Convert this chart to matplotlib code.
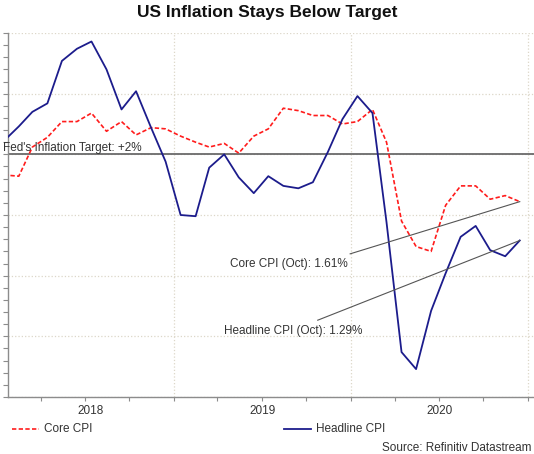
import matplotlib
matplotlib.use("Agg")
import matplotlib.pyplot as plt
import matplotlib.dates as mdates
import matplotlib.transforms as mtransforms
from matplotlib.lines import Line2D
import numpy as np
import pandas as pd

# monthly readings, plotted mid-month
months = pd.date_range("2018-01-01", "2020-12-01", freq="MS") + pd.Timedelta(days=14)

core_cpi = [1.83, 1.82, 2.06, 2.14, 2.27, 2.27, 2.34, 2.19, 2.27, 2.16, 2.22, 2.21,
            2.15, 2.10, 2.06, 2.09, 2.01, 2.15, 2.21, 2.38, 2.36, 2.32, 2.32, 2.25,
            2.27, 2.37, 2.10, 1.45, 1.24, 1.20, 1.58, 1.74, 1.74, 1.63, 1.66, 1.61]

headline_cpi = [2.11, 2.23, 2.35, 2.42, 2.77, 2.87, 2.93, 2.70, 2.37, 2.52, 2.22, 1.94,
                1.50, 1.49, 1.89, 2.00, 1.81, 1.68, 1.82, 1.74, 1.72, 1.77, 2.02, 2.29,
                2.48, 2.34, 1.44, 0.37, 0.23, 0.71, 1.02, 1.32, 1.41, 1.21, 1.16, 1.29]

target = 2.0
years = [2018, 2019, 2020]
core_note = "Core CPI (Oct): 1.61%"
headline_note = "Headline CPI (Oct): 1.29%"

plt.rcParams["font.family"] = ["Liberation Sans", "DejaVu Sans"]
TEXT = "#333333"
NAVY = "#1c1c8c"
RED = "#ff1c1c"
GRID = "#dcd7c8"
AXIS = "#8c8c8c"
FS = 8.5

W, H = 534, 454
fig = plt.figure(figsize=(W / 100, H / 100), dpi=100)
fig.patch.set_facecolor("white")
ax = fig.add_axes([8 / W, 57 / H, 526 / W, 364 / H])

ax.plot(months, core_cpi, color=RED, lw=1.2, ls=(0, (2.6, 1.4)), zorder=3)
ax.plot(months, headline_cpi, color=NAVY, lw=1.3, zorder=4)

jan19 = mdates.date2num(pd.Timestamp("2019-01-01"))
jan21 = mdates.date2num(pd.Timestamp("2021-01-01"))
x0, x1 = jan19 - 342.3, jan21 + 12.4
ax.set_xlim(x0, x1)
ax.set_ylim(0, 3)

# y axis: unlabelled ticks, grid every 0.5
ax.set_yticks(np.arange(0, 3.01, 0.5))
ax.set_yticks(np.arange(0, 3.01, 0.1), minor=True)
ax.set_yticklabels([])
ax.yaxis.grid(True, which="major", ls=":", lw=0.9, color=GRID, zorder=0)
ax.tick_params(axis="y", which="both", length=3.5, width=0.8, color=AXIS)

# x axis: quarterly ticks, year gridlines, year labels centred in visible span
ax.xaxis.set_major_locator(mdates.MonthLocator(bymonth=[1, 4, 7, 10]))
ax.xaxis.set_major_formatter(plt.NullFormatter())
ax.tick_params(axis="x", which="both", length=3, width=0.8, color=AXIS)
for yr in years:
    start = mdates.date2num(pd.Timestamp(f"{yr}-01-01"))
    end = mdates.date2num(pd.Timestamp(f"{yr + 1}-01-01"))
    if yr > years[0]:
        ax.axvline(start, ls=":", lw=0.9, color=GRID, zorder=0)
    mid = (max(start, x0) + end) / 2
    ax.text(mid, -14 / 364, str(yr), transform=ax.get_xaxis_transform(),
            ha="center", va="center", fontsize=FS, color=TEXT)
ax.axvline(jan21, ls=":", lw=0.9, color=GRID, zorder=0)

for side in ["top", "right"]:
    ax.spines[side].set_visible(False)
for side in ["left", "bottom"]:
    ax.spines[side].set_color(AXIS)
    ax.spines[side].set_linewidth(1.0)

# Fed target line
ax.axhline(target, color="#6a6a6a", lw=1.3, zorder=2)
trans = mtransforms.blended_transform_factory(ax.transAxes, ax.transData)
ax.text(-5 / 526, target + 0.025, "Fed's Inflation Target: +2%", transform=trans,
        ha="left", va="baseline", fontsize=FS, color=TEXT, clip_on=False)

# callouts to the latest readings
core_start = (pd.Timestamp("2019-12-31"), 1.18)
head_start = (pd.Timestamp("2019-10-25"), 0.633)
ax.plot([core_start[0], months[-1]], [core_start[1], core_cpi[-1]],
        color="#555555", lw=0.8, zorder=5)
ax.plot([head_start[0], months[-1]], [head_start[1], headline_cpi[-1]],
        color="#555555", lw=0.8, zorder=5)
ax.text(pd.Timestamp("2019-12-26"), 1.10, core_note, ha="right", va="center",
        fontsize=FS, color=TEXT)
ax.text(pd.Timestamp("2019-09-05"), 0.548, headline_note, ha="center", va="center",
        fontsize=FS, color=TEXT)

# title
fig.text(267 / W, 1 - 13 / H, "US Inflation Stays Below Target", ha="center",
         va="center", fontsize=12.5, fontweight="bold", color="#111111")

# legend drawn by hand along the bottom
ly = 1 - 428.5 / H
fig.add_artist(Line2D([12 / W, 39 / W], [ly, ly], color=RED, lw=1.2,
                      ls=(0, (2.6, 1.4))))
fig.text(44 / W, ly, "Core CPI", ha="left", va="center", fontsize=FS, color=TEXT)
fig.add_artist(Line2D([284 / W, 311 / W], [ly, ly], color=NAVY, lw=1.3))
fig.text(316 / W, ly, "Headline CPI", ha="left", va="center", fontsize=FS, color=TEXT)
fig.text(531 / W, 1 - 448 / H, "Source: Refinitiv Datastream", ha="right",
         va="center", fontsize=FS, color=TEXT)

fig.savefig("out.png", dpi=100)
